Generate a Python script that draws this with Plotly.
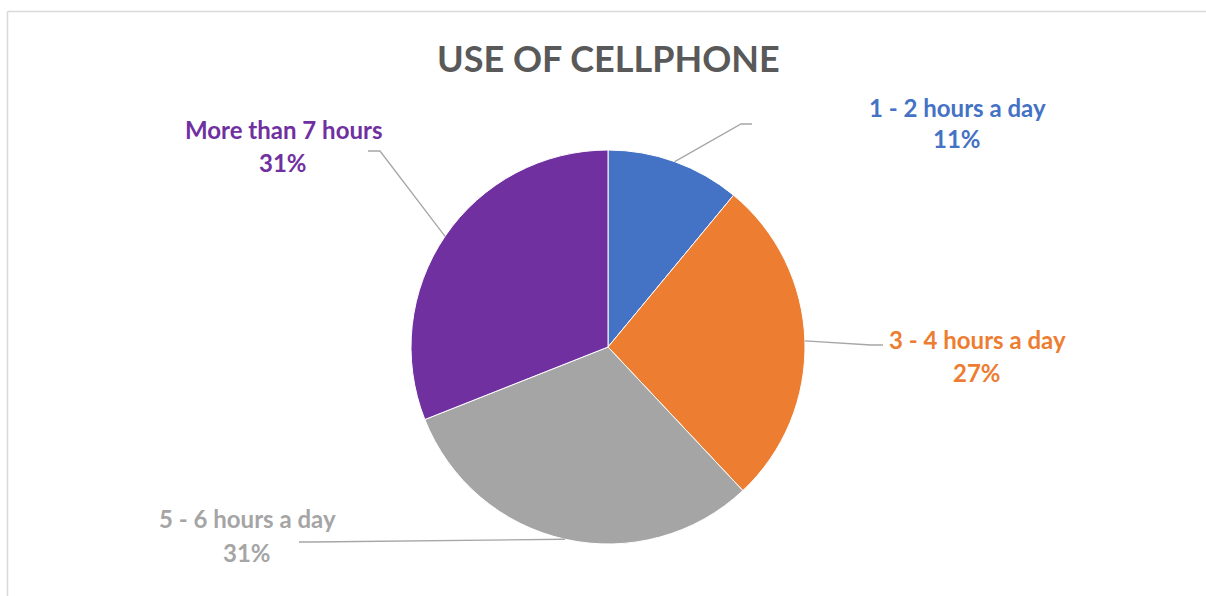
import math
import plotly.graph_objects as go

# Share of respondents by daily phone use
categories = ["1 - 2 hours a day", "3 - 4 hours a day", "5 - 6 hours a day", "More than 7 hours"]
percent = [11, 27, 31, 31]
colors = ["#4472C4", "#ED7D31", "#A5A5A5", "#7030A0"]

W, H = 1206, 596
CX, CY, R = 608, 347, 197  # pie centre and radius in pixels

# label placement: (label centre x, name y, percent y, elbow point, line end point)
label_layout = [
    (957, 107, 139, (741, 124), (752, 124)),
    (977, 339, 372, (871, 345), (883, 345)),
    (247, 518, 552, (312, 542), (299, 542)),
    (283, 130, 162, (380, 151), (368, 151)),
]


def px(x):
    return x / W


def py(y):
    return 1 - y / H


fig = go.Figure(
    go.Pie(
        labels=categories,
        values=percent,
        marker=dict(colors=colors, line=dict(color="white", width=1)),
        sort=False,
        direction="clockwise",
        rotation=0,
        textinfo="none",
        showlegend=False,
        domain=dict(x=[px(CX - R), px(CX + R)], y=[py(CY + R), py(CY - R)]),
    )
)

frame = dict(color="#D9D9D9", width=1.5)
shapes = [
    # chart frame: top and left edges
    dict(type="line", xref="paper", yref="paper", x0=px(7.5), x1=1.05, y0=py(11.5), y1=py(11.5), line=frame),
    dict(type="line", xref="paper", yref="paper", x0=px(7.5), x1=px(7.5), y0=-0.05, y1=py(11.5), line=frame),
]
annotations = []

total = sum(percent)
cum = 0
for name, val, col, (lx, ny, pyy, elbow, end) in zip(categories, percent, colors, label_layout):
    mid = (cum + val / 2) / total * 2 * math.pi
    cum += val
    ax = CX + R * math.sin(mid)
    ay = CY - R * math.cos(mid)
    path = f"M {px(ax)},{py(ay)} L {px(elbow[0])},{py(elbow[1])} L {px(end[0])},{py(end[1])}"
    shapes.append(dict(type="path", xref="paper", yref="paper", path=path,
                       line=dict(color="#A6A6A6", width=1.3)))
    annotations.append(dict(x=px(lx), y=py(ny), xref="paper", yref="paper",
                            text=f"<b>{name}</b>", showarrow=False,
                            font=dict(family="Lato", size=24, color=col),
                            xanchor="center", yanchor="middle"))
    annotations.append(dict(x=px(lx), y=py(pyy), xref="paper", yref="paper",
                            text=f"<b>{val}%</b>", showarrow=False,
                            font=dict(family="Lato", size=24, color=col),
                            xanchor="center", yanchor="middle"))

annotations.append(dict(x=px(608), y=py(58), xref="paper", yref="paper",
                        text="<b>USE OF CELLPHONE</b>", showarrow=False,
                        font=dict(family="Lato", size=36, color="#595959"),
                        xanchor="center", yanchor="middle"))

fig.update_layout(
    width=W, height=H,
    margin=dict(l=0, r=0, t=0, b=0),
    paper_bgcolor="white",
    plot_bgcolor="white",
    shapes=shapes,
    annotations=annotations,
)

fig.write_html("out.html")
